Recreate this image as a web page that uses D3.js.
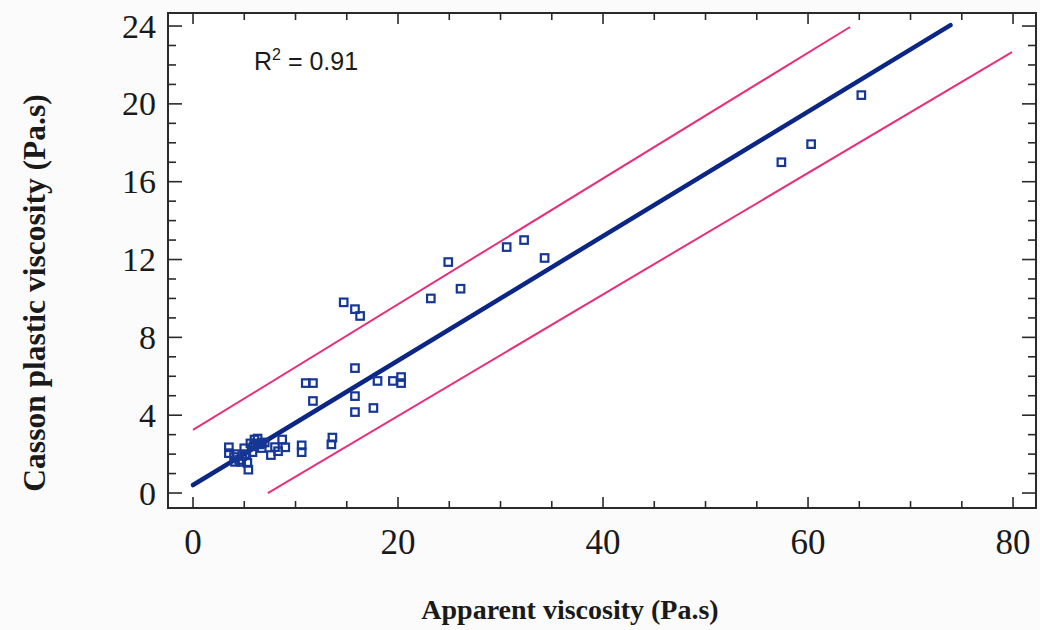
<!DOCTYPE html>
<html>
<head>
<meta charset="utf-8">
<script src="https://cdn.jsdelivr.net/npm/d3@7"></script>
<style>
  html, body { margin: 0; padding: 0; background: #fbfbfb; }
  svg { display: block; }
</style>
</head>
<body>
<svg id="chart" width="1040" height="630"></svg>
<script>
// Apparent viscosity vs Casson plastic viscosity (Pa.s)
const apparentVisc = [
  3.5, 3.5, 4.0, 4.1, 4.3, 4.5, 4.7, 4.8, 5.0, 5.2, 5.3, 5.6, 5.4, 5.8, 5.9, 6.0, 6.1, 6.3, 6.5, 6.7, 6.7, 7.0,
  7.6, 8.0, 8.3, 8.7, 9.0, 10.6, 10.6, 13.5, 13.6,
  11.0, 11.7, 11.7, 14.7, 15.8, 16.3, 15.8, 15.8, 15.8, 17.6, 18.0, 19.5, 20.3, 20.3,
  23.2, 24.9, 26.1, 30.6, 32.3, 34.3,
  57.4, 60.3, 65.2
];
const cassonVisc = [
  2.35, 2.05, 1.85, 1.6, 2.0, 1.7, 1.6, 1.9, 2.3, 2.0, 1.55, 2.55, 1.2, 2.1, 2.4, 2.75, 2.55, 2.8, 2.5, 2.57, 2.31, 2.6,
  1.95, 2.36, 2.15, 2.75, 2.35, 2.45, 2.1, 2.5, 2.85,
  5.65, 5.65, 4.73, 9.8, 9.45, 9.1, 6.42, 4.98, 4.16, 4.37, 5.76, 5.76, 5.96, 5.65,
  10.0, 11.87, 10.5, 12.64, 13.0, 12.08,
  17.0, 17.93, 20.45
];

// Fitted line and the two prediction limits (end points)
const fitX = [0, 73.9];
const fitY = [0.41, 24.05];
const upperX = [0, 64.1];
const upperY = [3.24, 23.95];
const lowerX = [7.3, 79.9];
const lowerY = [0.0, 22.66];

const xTickLabels = [0, 20, 40, 60, 80];
const yTickLabels = [0, 4, 8, 12, 16, 20, 24];
const xMinorTicks = d3.range(0, 81, 5);
const yMinorTicks = d3.range(0, 25, 1);

const svg = d3.select("#chart");
const L = 168, R = 1036, T = 13, B = 508;

const x = d3.scaleLinear().domain([-2.44, 82.24]).range([L, R]);
const y = d3.scaleLinear().domain([-0.77, 24.67]).range([B, T]);

// plot area
svg.append("rect").attr("x", L).attr("y", T).attr("width", R - L).attr("height", B - T)
  .attr("fill", "#ffffff");

const lineGen = (xs, ys) => d3.line().x((d, i) => x(xs[i])).y((d, i) => y(ys[i]))(xs);

svg.append("path").attr("d", lineGen(upperX, upperY))
  .attr("stroke", "#e8307a").attr("stroke-width", 2).attr("fill", "none");
svg.append("path").attr("d", lineGen(lowerX, lowerY))
  .attr("stroke", "#e8307a").attr("stroke-width", 2).attr("fill", "none");
svg.append("path").attr("d", lineGen(fitX, fitY))
  .attr("stroke", "#0b2685").attr("stroke-width", 4.5).attr("stroke-linecap", "round").attr("fill", "none");

// data markers
const s = 7.5;
svg.append("g").selectAll("rect").data(apparentVisc).join("rect")
  .attr("x", (d) => x(d) - s / 2)
  .attr("y", (d, i) => y(cassonVisc[i]) - s / 2)
  .attr("width", s).attr("height", s)
  .attr("fill", "none").attr("stroke", "#163795").attr("stroke-width", 2.2);

// frame
svg.append("rect").attr("x", L).attr("y", T).attr("width", R - L).attr("height", B - T)
  .attr("fill", "none").attr("stroke", "#2a2a2a").attr("stroke-width", 2);

// ticks (inward on all four sides)
const tk = svg.append("g").attr("stroke", "#2a2a2a").attr("stroke-width", 1.6);
xMinorTicks.forEach(v => {
  const len = v % 20 === 0 ? 11 : 7;
  tk.append("line").attr("x1", x(v)).attr("x2", x(v)).attr("y1", B).attr("y2", B - len);
  tk.append("line").attr("x1", x(v)).attr("x2", x(v)).attr("y1", T).attr("y2", T + len);
});
yMinorTicks.forEach(v => {
  const len = v % 4 === 0 ? 14 : 8;
  tk.append("line").attr("x1", L).attr("x2", L + len).attr("y1", y(v)).attr("y2", y(v));
  tk.append("line").attr("x1", R).attr("x2", R - len).attr("y1", y(v)).attr("y2", y(v));
});

// tick labels
const serif = "'Liberation Serif', 'Times New Roman', serif";
svg.append("g").selectAll("text").data(xTickLabels).join("text")
  .attr("x", d => x(d)).attr("y", 554)
  .attr("text-anchor", "middle").attr("font-family", serif).attr("font-size", 35)
  .attr("fill", "#1a1a1a").text(d => d);
svg.append("g").selectAll("text").data(yTickLabels).join("text")
  .attr("x", 156).attr("y", d => y(d)).attr("dy", "0.34em")
  .attr("text-anchor", "end").attr("font-family", serif).attr("font-size", 34)
  .attr("fill", "#1a1a1a").text(d => d);

// axis titles
svg.append("text").attr("x", 570).attr("y", 619).attr("text-anchor", "middle")
  .attr("font-family", serif).attr("font-weight", "bold").attr("font-size", 28)
  .attr("fill", "#1a1a1a").text("Apparent viscosity (Pa.s)");
svg.append("text").attr("transform", "translate(45,293) rotate(-90)").attr("text-anchor", "middle")
  .attr("font-family", serif).attr("font-weight", "bold").attr("font-size", 31.5)
  .attr("fill", "#1a1a1a").text("Casson plastic viscosity (Pa.s)");

// coefficient of determination
const r2 = svg.append("text").attr("x", 254).attr("y", 70)
  .attr("font-family", "'Liberation Sans', Arial, sans-serif").attr("font-size", 25).attr("fill", "#1a1a1a");
r2.append("tspan").text("R");
r2.append("tspan").attr("font-size", 16).attr("dy", -10).text("2");
r2.append("tspan").attr("dy", 10).text(" = 0.91");
</script>
</body>
</html>
